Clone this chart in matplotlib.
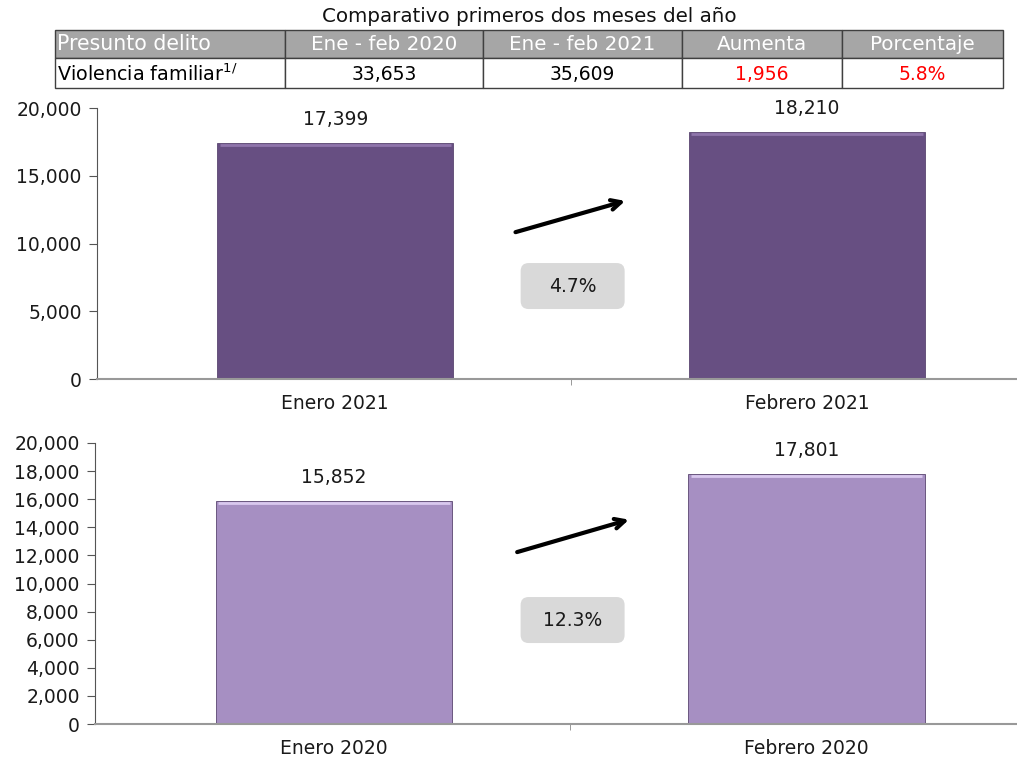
import matplotlib.pyplot as plt
from matplotlib.patches import Rectangle, FancyBboxPatch

plt.rcParams['font.family'] = ['DejaVu Sans']
plt.rcParams['mathtext.fontset'] = 'dejavusans'

# table data
table_title = 'Comparativo primeros dos meses del año'
table_header = ['Presunto delito', 'Ene - feb 2020', 'Ene - feb 2021', 'Aumenta', 'Porcentaje']
table_row = ['Violencia familiar$^{1/}$', '33,653', '35,609', '1,956', '5.8%']
row_colors = ['black', 'black', 'black', 'red', 'red']

# chart data
cats_2021 = ['Enero 2021', 'Febrero 2021']
vals_2021 = [17399, 18210]
pct_2021 = '4.7%'
cats_2020 = ['Enero 2020', 'Febrero 2020']
vals_2020 = [15852, 17801]
pct_2020 = '12.3%'

W, H = 1017, 760
fig = plt.figure(figsize=(W / 100, H / 100), dpi=100)

# table drawn in pixel coords on an overlay axes
tab = fig.add_axes([0, 0, 1, 1])
tab.set_xlim(0, W)
tab.set_ylim(H, 0)
tab.axis('off')
col_edges = [55, 285, 483, 682, 842, 1003]
y_top, y_mid, y_bot = 30, 58, 88
tab.text(529, 16, table_title, ha='center', va='center', fontsize=14.3, color='#111111')
for i in range(5):
    x0, x1 = col_edges[i], col_edges[i + 1]
    tab.add_patch(Rectangle((x0, y_top), x1 - x0, y_mid - y_top, facecolor='#a6a6a6', edgecolor='#404040', lw=1))
    tab.add_patch(Rectangle((x0, y_mid), x1 - x0, y_bot - y_mid, facecolor='white', edgecolor='#404040', lw=1))
    if i == 0:
        tab.text(x0 + 2, (y_top + y_mid) / 2, table_header[i], ha='left', va='center', color='white', fontsize=14.8)
        tab.text(x0 + 2, (y_mid + y_bot) / 2 + 1, table_row[i], ha='left', va='center', fontsize=13.8)
    else:
        tab.text((x0 + x1) / 2, (y_top + y_mid) / 2, table_header[i], ha='center', va='center', color='white', fontsize=14.3)
        tab.text((x0 + x1) / 2, (y_mid + y_bot) / 2 + 1, table_row[i], ha='center', va='center',
                 color=row_colors[i], fontsize=13.5)


def bar_panel(rect, cats, vals, pct, color, hilite, ystep, arrow_pts, box_xy):
    ax = fig.add_axes(rect)
    wpx, hpx = rect[2] * W, rect[3] * H
    x = list(range(len(cats)))
    ax.bar(x, vals, width=0.5, color=color, edgecolor='#5a4670', linewidth=0.6, zorder=2)
    ax.hlines([v - 150 for v in vals], [i - 0.245 for i in x], [i + 0.245 for i in x], color=hilite, lw=2, zorder=3)
    for xi, v in zip(x, vals):
        ax.annotate(f'{v:,}', (xi, v), xytext=(0, 10), textcoords='offset points',
                    ha='center', va='bottom', fontsize=13.5, color='#1a1a1a')
    ax.set_xlim(-0.505, 1.445)
    ax.set_ylim(0, 20000)
    ax.set_yticks(range(0, 20001, ystep))
    ax.set_yticklabels([f'{t:,}' for t in range(0, 20001, ystep)], fontsize=13.5, color='#1a1a1a')
    ax.set_xticks(x)
    ax.set_xticklabels(cats, fontsize=13.5, color='#1a1a1a')
    ax.tick_params(axis='x', length=0, pad=11)
    ax.set_xticks([0.5], minor=True)
    ax.tick_params(axis='x', which='minor', length=4, color='#888888')
    ax.tick_params(axis='y', length=6, color='#555555', direction='out', pad=5)
    for s in ['top', 'right']:
        ax.spines[s].set_visible(False)
    ax.spines['left'].set_color('#555555')
    ax.spines['bottom'].set_color('#999999')
    ax.spines['bottom'].set_linewidth(1.5)
    ax.annotate('', xy=arrow_pts[1], xytext=arrow_pts[0], xycoords='axes fraction',
                arrowprops=dict(arrowstyle='->,head_length=0.7,head_width=0.35', lw=3, color='black'))
    bw, bh = 104 / wpx, 46 / hpx
    ax.add_patch(FancyBboxPatch((box_xy[0] - bw / 2, box_xy[1] - bh / 2), bw, bh,
                                boxstyle=f'round,pad=0,rounding_size={8 / wpx}', mutation_aspect=wpx / hpx,
                                transform=ax.transAxes, facecolor='#d9d9d9', edgecolor='none', zorder=4))
    ax.text(box_xy[0], box_xy[1], pct, transform=ax.transAxes, ha='center', va='center', fontsize=13.5,
            color='#1a1a1a', zorder=5)
    return ax


bar_panel([97 / W, 1 - 379 / H, 1 - 97 / W, 271 / H], cats_2021, vals_2021, pct_2021,
          '#674f82', '#8f75ab', 5000, [(0.452, 0.539), (0.577, 0.660)], (0.517, 0.343))
bar_panel([95 / W, 1 - 724 / H, 1 - 95 / W, 281 / H], cats_2020, vals_2020, pct_2020,
          '#a68fc2', '#d9c8ee', 2000, [(0.455, 0.609), (0.582, 0.730)], (0.518, 0.370))

fig.savefig('out.png', dpi=100)
